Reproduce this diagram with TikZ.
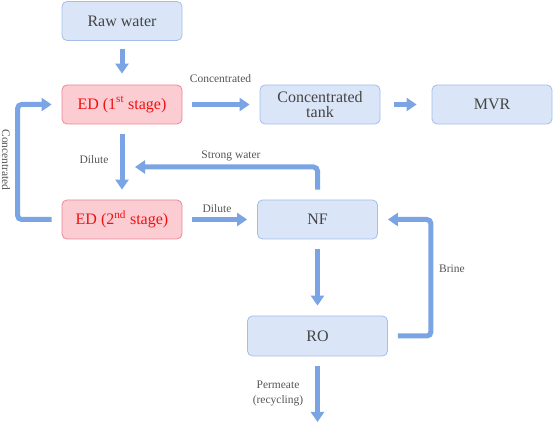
\documentclass[tikz,border=0pt]{standalone}
\usepackage{fontspec}
\setmainfont{Liberation Serif}
\usetikzlibrary{arrows.meta,positioning,calc}
\definecolor{unitfill}{HTML}{DAE6F8}
\definecolor{unitline}{HTML}{A3BEEC}
\definecolor{unittext}{HTML}{444444}
\definecolor{edfill}{HTML}{FCCCD3}
\definecolor{edline}{HTML}{EE8797}
\definecolor{edtext}{HTML}{F01010}
\definecolor{pipe}{HTML}{7BA4E4}
\definecolor{lbltext}{HTML}{555555}

\begin{document}
\begin{tikzpicture}[x=1pt,y=-1pt,
    unit/.style={draw=unitline, fill=unitfill, line width=0.8pt, rounded corners=5pt,
        minimum width=120pt, minimum height=39pt, inner sep=0pt, align=center,
        text=unittext, font=\fontsize{16}{15.5}\selectfont},
    edunit/.style={unit, draw=edline, fill=edfill, text=edtext},
    flow/.style={draw=pipe, line width=5pt, rounded corners=4pt,
        -{Triangle[width=13pt,length=10pt]}, shorten <=10pt, shorten >=10pt},
    lbl/.style={text=lbltext, font=\fontsize{11.5}{15}\selectfont}]
    \useasboundingbox (0,0) rectangle (555,422);

    % Units
    \node[unit] (raw) at (122,21) {Raw water};
    \node[edunit] (ed1) at (122,104.5) {ED (1\textsuperscript{st} stage)};
    \node[unit] (tank) at (320,104.5) {Concentrated\\tank};
    \node[unit] (mvr) at (492,104.5) {MVR};
    \node[edunit] (ed2) at (122,219.5) {ED (2\textsuperscript{nd} stage)};
    \node[unit] (nf) at (317.5,219.5) {NF};
    \node[unit, minimum width=140pt, minimum height=40pt] (ro) at (317.5,336) {RO};
    \coordinate (sw) at (135,167);
    \coordinate (out) at (317.5,422);

    % Flows
    \draw[flow, shorten <=8pt, shorten >=11pt] (raw) -- (ed1);
    \draw[flow] (ed1) -- (tank);
    \draw[flow, shorten <=14pt, shorten >=15pt] (tank) -- (mvr);
    \draw[flow] (ed1) -- (ed2);
    \draw[flow] (ed2) -- (nf);
    \draw[flow] (nf) -- (ro);
    \draw[flow, shorten >=0pt] (nf.north) |- (sw);
    \draw[flow] (ro.east) -- ++(43,0) |- (nf.east);
    \draw[flow] (ed2.west) -- ++(-44,0) |- (ed1.west);
    \draw[flow, shorten >=0pt] (ro) -- (out);

    % Labels
    \node[lbl] (lconc) at (220.5,79) {Concentrated};
    \node[lbl] (ldil1) at (94,160) {Dilute};
    \node[lbl] (lstrong) at (231,156) {Strong water};
    \node[lbl] (ldil2) at (217,209) {Dilute};
    \node[lbl] (lbrine) at (452,269) {Brine};
    \node[lbl, align=center] (lperm) at (278,393) {Permeate\\(recycling)};
    \node[lbl, rotate=-90] (lconc2) at (6,160) {Concentrated};
\end{tikzpicture}
\end{document}
